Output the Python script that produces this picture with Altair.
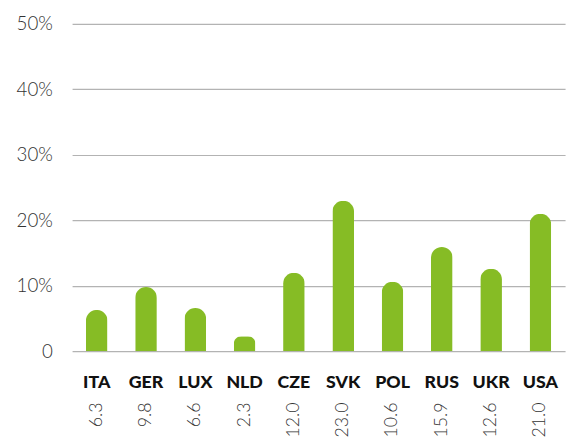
import altair as alt
import pandas as pd

countries = ["ITA", "GER", "LUX", "NLD", "CZE", "SVK", "POL", "RUS", "UKR", "USA"]
values = [6.3, 9.8, 6.6, 2.3, 12.0, 23.0, 10.6, 15.9, 12.6, 21.0]
value_labels = ["6.3", "9.8", "6.6", "2.3", "12.0", "23.0", "10.6", "15.9", "12.6", "21.0"]
y_ticks = [0, 10, 20, 30, 40, 50]

df = pd.DataFrame({"country": countries, "value": values, "label": value_labels})

FONT = "Lato"
x_enc = alt.X("country:N", sort=countries,
              scale=alt.Scale(range=[10, 510], paddingInner=0, paddingOuter=0),
              axis=None)

bars = alt.Chart(df).mark_bar(
    color="#86bc25", width=22, cornerRadiusTopLeft=11, cornerRadiusTopRight=11
).encode(
    x=x_enc,
    y=alt.Y("value:Q", scale=alt.Scale(domain=[0, 50], nice=False),
            axis=alt.Axis(values=y_ticks, title=None, domain=False, ticks=False,
                          labelPadding=10, labelFont=FONT, labelFontWeight=300,
                          labelFontSize=19, labelColor="#333333",
                          labelExpr="datum.value == 0 ? '0' : datum.value + '%'",
                          grid=True, gridColor="#b3b3b3", gridWidth=1.2)),
)

cat_text = alt.Chart(df).mark_text(
    font=FONT, fontWeight=900, fontSize=18, color="#111111",
    baseline="alphabetic", align="center"
).encode(x=x_enc, y=alt.value(369), text="country:N")

val_text = alt.Chart(df).mark_text(
    font=FONT, fontWeight=300, fontSize=18, color="#333333",
    angle=270, align="right", baseline="middle"
).encode(x=x_enc, y=alt.value(384), text="label:N")

chart = alt.layer(bars, cat_text, val_text).properties(
    width=515, height=332,
    autosize=alt.AutoSizeParams(type="none"),
    padding={"left": 55, "top": 13, "right": 0, "bottom": 90},
).configure_view(stroke=None)

chart.save("out.html", embed_options={"renderer": "svg", "actions": False})
